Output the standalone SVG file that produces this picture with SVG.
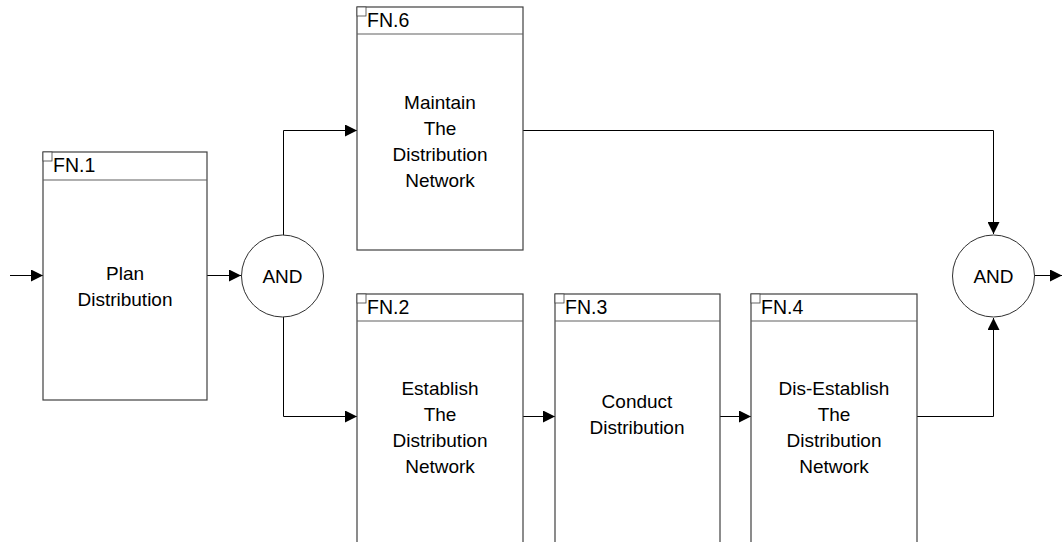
<svg xmlns="http://www.w3.org/2000/svg" width="1062" height="542" viewBox="0 0 1062 542">
  <defs>
    <style>
      .box { fill: #ffffff; stroke: #404040; stroke-width: 1.2; }
      .hdr { fill: none; stroke: #606060; stroke-width: 1.2; }
      .tag { fill: #ffffff; stroke: #404040; stroke-width: 0.8; }
      .gate { fill: #ffffff; stroke: #303030; stroke-width: 1; }
      .id { font-family: "Liberation Sans", Arial, sans-serif; font-size: 19.5px; fill: #000; }
      .lbl { font-family: "Liberation Sans", Arial, sans-serif; font-size: 19px; fill: #000; text-anchor: middle; }
      .wire { fill: none; stroke: #000; stroke-width: 1; }
    </style>
    <marker id="arrow" viewBox="0 0 12 12" refX="12" refY="6" markerWidth="12" markerHeight="12" markerUnits="userSpaceOnUse" orient="auto">
      <path d="M0,0 L12,6 L0,12 Z" fill="#000"/>
    </marker>
  </defs>

  <!-- connectors -->
  <g id="connectors">
    <path class="wire" d="M10,275.5 H43" marker-end="url(#arrow)"/>
    <path class="wire" d="M207,275.5 H241" marker-end="url(#arrow)"/>
    <path class="wire" d="M283.5,235 V130.5 H357" marker-end="url(#arrow)"/>
    <path class="wire" d="M283.5,317 V416.5 H357" marker-end="url(#arrow)"/>
    <path class="wire" d="M523,416.5 H555" marker-end="url(#arrow)"/>
    <path class="wire" d="M720,416.5 H751" marker-end="url(#arrow)"/>
    <path class="wire" d="M523,130.5 H993.5 V234" marker-end="url(#arrow)"/>
    <path class="wire" d="M917,416.5 H993.5 V318" marker-end="url(#arrow)"/>
    <path class="wire" d="M1035,275.5 H1062" marker-end="url(#arrow)"/>
  </g>

  <!-- FN.1 -->
  <g id="fn1">
    <rect class="box" x="43" y="152" width="164" height="248"/>
    <line class="hdr" x1="43" y1="180" x2="207" y2="180"/>
    <rect class="tag" x="43" y="152" width="9" height="9"/>
    <text class="id" x="53" y="172">FN.1</text>
    <text class="lbl" x="125" y="280">Plan</text>
    <text class="lbl" x="125" y="306">Distribution</text>
  </g>

  <!-- FN.6 -->
  <g id="fn6">
    <rect class="box" x="357" y="7" width="166" height="243"/>
    <line class="hdr" x1="357" y1="34" x2="523" y2="34"/>
    <rect class="tag" x="357" y="7" width="9" height="9"/>
    <text class="id" x="367" y="27">FN.6</text>
    <text class="lbl" x="440" y="109">Maintain</text>
    <text class="lbl" x="440" y="135">The</text>
    <text class="lbl" x="440" y="161">Distribution</text>
    <text class="lbl" x="440" y="187">Network</text>
  </g>

  <!-- FN.2 -->
  <g id="fn2">
    <rect class="box" x="357" y="294" width="166" height="260"/>
    <line class="hdr" x1="357" y1="321" x2="523" y2="321"/>
    <rect class="tag" x="357" y="294" width="9" height="9"/>
    <text class="id" x="367" y="314">FN.2</text>
    <text class="lbl" x="440" y="395">Establish</text>
    <text class="lbl" x="440" y="421">The</text>
    <text class="lbl" x="440" y="447">Distribution</text>
    <text class="lbl" x="440" y="473">Network</text>
  </g>

  <!-- FN.3 -->
  <g id="fn3">
    <rect class="box" x="555" y="294" width="165" height="260"/>
    <line class="hdr" x1="555" y1="321" x2="720" y2="321"/>
    <rect class="tag" x="555" y="294" width="9" height="9"/>
    <text class="id" x="565" y="314">FN.3</text>
    <text class="lbl" x="637" y="408">Conduct</text>
    <text class="lbl" x="637" y="434">Distribution</text>
  </g>

  <!-- FN.4 -->
  <g id="fn4">
    <rect class="box" x="751" y="294" width="166" height="260"/>
    <line class="hdr" x1="751" y1="321" x2="917" y2="321"/>
    <rect class="tag" x="751" y="294" width="9" height="9"/>
    <text class="id" x="761" y="314">FN.4</text>
    <text class="lbl" x="834" y="395">Dis-Establish</text>
    <text class="lbl" x="834" y="421">The</text>
    <text class="lbl" x="834" y="447">Distribution</text>
    <text class="lbl" x="834" y="473">Network</text>
  </g>

  <!-- AND split -->
  <g id="and-split">
    <circle class="gate" cx="282.5" cy="276" r="41"/>
    <text class="lbl" x="282.5" y="283">AND</text>
  </g>

  <!-- AND join -->
  <g id="and-join">
    <circle class="gate" cx="993.5" cy="276" r="41"/>
    <text class="lbl" x="993.5" y="283">AND</text>
  </g>
</svg>
